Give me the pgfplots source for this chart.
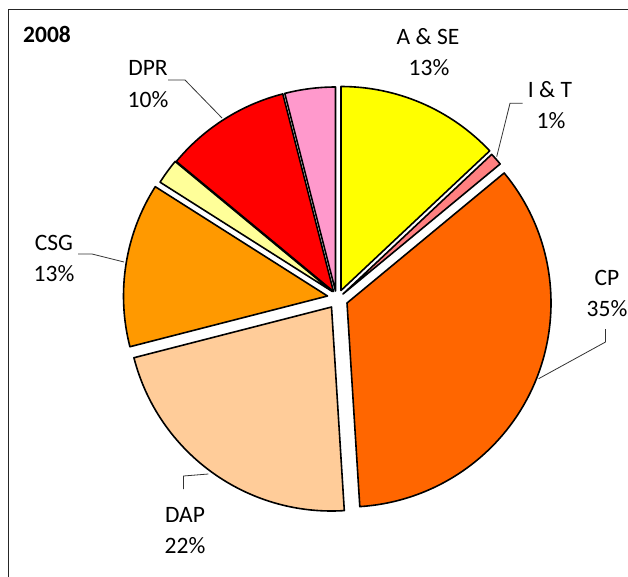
\documentclass[border=0pt]{standalone}
\usepackage{pgfplots}
\usepackage{pgfplotstable}
\pgfplotsset{compat=1.18}
\usepackage{fontspec}
\setmainfont{Carlito}
\definecolor{cASE}{HTML}{FFFF00}
\definecolor{cIT}{HTML}{FF8080}
\definecolor{cCP}{HTML}{FF6600}
\definecolor{cDAP}{HTML}{FFCC99}
\definecolor{cCSG}{HTML}{FF9900}
\definecolor{cLY}{HTML}{FFFF99}
\definecolor{cDPR}{HTML}{FF0000}
\definecolor{cPK}{HTML}{FF99CC}
% value (percent), apex x, apex y (picture units), colour
\pgfplotstableread{
name value ax ay col
ASE 13 341 290.5 cASE
IT 1 343 294 cIT
CP 35 347 303 cCP
DAP 22 331.5 307 cDAP
CSG 13 327.5 296 cCSG
LY 2 332.3 291.5 cLY
DPR 10 333.5 291.5 cDPR
PK 4 335.5 291 cPK
}\piedata
\begin{document}
\begin{tikzpicture}
\useasboundingbox (0,0) rectangle (628pt,576pt);
\clip (0,0) rectangle (628pt,576pt);
\begin{axis}[at={(0,0)}, anchor=south west, scale only axis,
  width=628pt, height=576pt, xmin=0, xmax=628, ymin=0, ymax=576,
  y dir=reverse, hide axis, clip=false]
\pgfmathsetmacro\cum{0}
\pgfplotsforeachungrouped \i in {0,...,7}{%
  \pgfplotstablegetelem{\i}{value}\of\piedata \let\v\pgfplotsretval
  \pgfplotstablegetelem{\i}{ax}\of\piedata \let\ax\pgfplotsretval
  \pgfplotstablegetelem{\i}{ay}\of\piedata \let\ay\pgfplotsretval
  \pgfplotstablegetelem{\i}{col}\of\piedata \let\col\pgfplotsretval
  \pgfmathsetmacro\sa{90-3.6*\cum}%
  \pgfmathsetmacro\ea{90-3.6*(\cum+\v)}%
  \edef\cmd{\noexpand\filldraw[fill=\col, draw=black, line width=1.6pt, line join=round]
    (axis cs:\ax,\ay) -- ++(\sa:204pt) arc[start angle=\sa, end angle=\ea, radius=204pt] -- cycle;}%
  \cmd
  \pgfmathsetmacro\cum{\cum+\v}%
}
% frame
\draw[line width=1pt, black!85] (axis cs:8.5,700) -- (axis cs:8.5,9.5) -- (axis cs:700,9.5);
% leader lines
\draw[line width=0.8pt, black!80] (axis cs:168,80) -- (axis cs:185,80) -- (axis cs:222,118);
\draw[line width=0.8pt, black!80] (axis cs:522.7,103.3) -- (axis cs:510,103.3) -- (axis cs:496.7,156.7);
\draw[line width=0.8pt, black!80] (axis cs:605.5,329) -- (axis cs:605.5,342) -- (axis cs:538.6,378.7);
\draw[line width=0.8pt, black!80] (axis cs:183.4,489) -- (axis cs:183.4,476) -- (axis cs:208.3,474);
\draw[line width=0.8pt, black!80] (axis cs:78,254) -- (axis cs:92,254) -- (axis cs:124,262);
% labels
\begin{scope}[every node/.style={anchor=base, inner sep=0pt, font=\fontsize{23.5}{30}\selectfont}]
\node at (axis cs:47,42) {\bfseries 2008};
\node at (axis cs:428,44.5) {A \& SE};
\node at (axis cs:429,75) {13\%};
\node at (axis cs:550,97) {I \& T};
\node at (axis cs:551,128) {1\%};
\node at (axis cs:607,285) {CP};
\node at (axis cs:607,316) {35\%};
\node at (axis cs:185,522) {DAP};
\node at (axis cs:185,553) {22\%};
\node at (axis cs:54,250.5) {CSG};
\node at (axis cs:54,281) {13\%};
\node at (axis cs:148,75) {DPR};
\node at (axis cs:148,107) {10\%};
\end{scope}
\end{axis}
\end{tikzpicture}
\end{document}
